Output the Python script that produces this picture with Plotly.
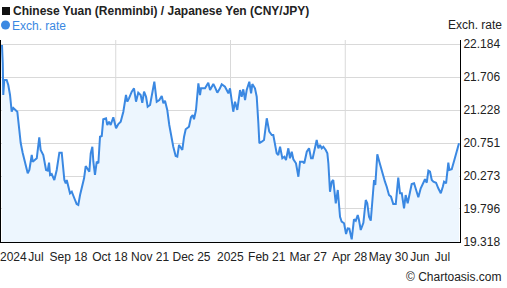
import plotly.graph_objects as go

# Day offsets from the start of the period (mid July 2024) and CNY/JPY rates
days = [0, 0.6, 1.0, 1.8, 3.7, 5.0, 6.4, 7.7, 9.0, 12.2, 13.8, 14.9, 16.5, 18.3, 20.5, 21.8, 23.7, 24.5, 27.7, 29.7,
        30.8, 32.9, 35.1, 36.4, 37.5, 38.3, 39.6, 41.7, 43.6, 45.7, 47.6, 49.7, 50.8, 51.6, 52.8, 54.2, 55.6, 56.8, 58.2, 59.5,
        60.8, 62.2, 63.5, 65.4, 66.7, 68.0, 69.6, 70.7, 72.0, 72.8, 74.1, 75.5, 76.8, 78.1, 79.5, 80.7, 82.9, 83.9, 85.3, 86.6,
        88.7, 90.9, 92.7, 94.6, 96.7, 98.8, 99.9, 101.2, 103.4, 105.2, 106.8, 108.6, 110.5, 111.8, 113.2, 114.8, 116.1, 118.0, 119.8, 121.4,
        123.3, 125.4, 127.3, 128.6, 129.9, 131.7, 133.3, 134.7, 136.5, 138.4, 139.7, 141.1, 142.4, 143.7, 145.1, 146.4, 149.0, 150.6, 152.0, 153.0,
        154.6, 155.7, 156.5, 157.8, 158.6, 161.8, 164.4, 165.8, 168.4, 169.8, 171.6, 173.7, 175.1, 177.7, 180.4, 181.7, 183.1, 184.3, 185.7, 187.5,
        189.7, 191.0, 192.3, 193.7, 195.0, 196.3, 197.1, 198.5, 199.5, 201.6, 203.0, 204.3, 205.1, 207.0, 208.8, 211.0, 213.0, 215.0, 216.2, 218.9,
        220.2, 221.6, 223.4, 225.0, 226.3, 228.2, 229.5, 230.9, 232.2, 234.3, 236.2, 237.5, 239.7, 240.9, 242.9, 244.7, 246.3, 247.6, 249.5, 250.8,
        252.1, 253.4, 254.8, 256.1, 258.0, 259.3, 260.1, 261.4, 262.8, 264.0, 266.0, 267.6, 269.4, 270.7, 272.6, 274.2, 275.5, 276.8, 278.7, 280.5,
        281.9, 283.5, 284.5, 285.9, 288.0, 289.9, 291.1, 292.5, 293.9, 295.4, 296.5, 297.5, 299.1, 300.7, 302.6, 303.9, 305.2, 306.6, 308.4, 310.0,
        311.8, 313.8, 315.0, 315.8, 317.2, 318.6, 320.4, 321.7, 323.3, 325.2, 326.5, 328.4, 330.0, 331.8, 333.7, 335.8, 337.1, 338.5, 339.8, 341.1,
        342.5, 343.8, 345.9, 347.7, 349.7, 351.3, 352.3, 353.9, 355.7, 356.5, 358.4, 360.5, 362.4, 364.2]
rates = [22.170, 21.905, 21.446, 21.663, 21.663, 21.591, 21.446, 21.204, 21.258, 21.204, 20.939, 20.751, 20.606, 20.480, 20.312, 20.360, 20.577, 20.480, 20.530, 20.833,
         20.650, 20.577, 20.360, 20.350, 20.466, 20.288, 20.302, 20.215, 20.360, 20.611, 20.611, 20.215, 20.168, 20.215, 20.118, 20.023, 20.046, 19.974, 19.926, 19.868,
         19.854, 19.998, 20.118, 20.240, 20.418, 20.385, 20.336, 20.602, 20.697, 20.480, 20.288, 20.480, 20.457, 20.842, 20.852, 21.094, 21.108, 21.012, 21.059, 21.012,
         21.123, 20.964, 21.026, 21.059, 21.204, 21.446, 21.349, 21.398, 21.494, 21.543, 21.349, 21.479, 21.446, 21.334, 21.494, 21.421, 21.276, 21.301, 21.494, 21.638,
         21.349, 21.373, 21.431, 21.326, 21.363, 21.229, 21.012, 20.867, 20.697, 20.563, 20.553, 20.722, 20.674, 20.650, 20.842, 20.949, 20.987, 21.123, 21.156, 21.094,
         21.229, 21.543, 21.615, 21.446, 21.543, 21.543, 21.624, 21.518, 21.605, 21.557, 21.479, 21.543, 21.601, 21.566, 21.470, 21.543, 21.349, 21.204, 21.349, 21.229,
         21.518, 21.421, 21.528, 21.373, 21.518, 21.615, 21.638, 21.470, 21.605, 21.543, 21.421, 21.036, 20.747, 20.770, 20.794, 21.109, 20.915, 20.867, 20.867, 20.602,
         20.577, 20.697, 20.530, 20.553, 20.505, 20.674, 20.530, 20.625, 20.515, 20.457, 20.263, 20.480, 20.480, 20.457, 20.625, 20.674, 20.530, 20.530, 20.674, 20.794,
         20.674, 20.722, 20.674, 20.697, 20.650, 20.602, 20.457, 20.046, 20.191, 20.215, 19.878, 20.071, 19.684, 19.612, 19.589, 19.434, 19.516, 19.511, 19.357, 19.647,
         19.626, 19.709, 19.636, 19.492, 19.597, 19.926, 19.878, 19.684, 19.626, 19.974, 20.215, 20.143, 20.587, 20.480, 20.360, 20.240, 20.191, 20.118, 19.998, 19.974,
         19.868, 19.868, 20.095, 20.249, 20.023, 20.023, 19.806, 19.998, 19.878, 20.071, 20.157, 20.168, 20.071, 19.965, 20.095, 20.168, 20.226, 20.176, 20.350, 20.336,
         20.215, 20.191, 20.176, 20.095, 20.023, 20.118, 20.191, 20.168, 20.466, 20.360, 20.370, 20.505, 20.625, 20.747]

tick_days = [9, 27, 53, 86, 118, 151, 182, 211, 244, 277, 308, 333, 351]
tick_labels = ["2024", "Jul", "Sep 18", "Oct 18", "Nov 21", "Dec 25", "2025",
               "Feb 21", "Mar 27", "Apr 28", "May 30", "Jun", "Jul"]
y_ticks = [19.318, 19.796, 20.273, 20.751, 21.228, 21.706, 22.184]

title_text = "<b>Chinese Yuan (Renminbi) / Japanese Yen (CNY/JPY)</b>"
legend_text = "Exch. rate"
axis_title = "Exch. rate"
credit = "© Chartoasis.com"

FONT = "Liberation Sans, Arial, sans-serif"
LINE = "#3a88e2"
FILL = "#edf6fe"
TEXT = "#222222"

fig = go.Figure()
fig.add_trace(go.Scatter(
    x=days, y=rates, mode="lines",
    line=dict(color=LINE, width=2),
    fill="tozeroy", fillcolor=FILL,
    hoverinfo="skip", showlegend=False,
))

for p in (0.25, 0.5, 0.75):
    fig.add_shape(type="line", xref="paper", yref="paper", x0=p, x1=p, y0=0, y1=1,
                  line=dict(color="#d9d9d9", width=1), layer="below")

# title square and legend dot (pixel-sized shapes anchored at the plot's top-left corner)
fig.add_shape(type="rect", xref="paper", yref="paper", xsizemode="pixel", ysizemode="pixel",
              xanchor=0, yanchor=1, x0=1, x1=9, y0=25, y1=33,
              fillcolor="#111111", line=dict(width=0))
fig.add_shape(type="circle", xref="paper", yref="paper", xsizemode="pixel", ysizemode="pixel",
              xanchor=0, yanchor=1, x0=0, x1=9, y0=10.5, y1=19.5,
              fillcolor=LINE, line=dict(width=0))


def note(text, x, y, xa, ya, dx, dy, size, color):
    return dict(text=text, xref="paper", yref="paper", x=x, y=y, xanchor=xa, yanchor=ya,
                xshift=dx, yshift=dy, showarrow=False, font=dict(size=size, color=color))


fig.update_layout(
    width=507, height=288,
    margin=dict(l=1, r=47, t=40, b=46),
    paper_bgcolor="white", plot_bgcolor="white",
    font=dict(family=FONT, size=12, color=TEXT),
    xaxis=dict(range=[-0.8, 365], tickmode="array", tickvals=tick_days, ticktext=tick_labels,
               tickangle=0, ticklabeloverflow="allow", ticklabelstandoff=4,
               showgrid=False, zeroline=False, showline=True, linecolor="black", linewidth=1,
               ticks="", tickfont=dict(size=12, color=TEXT), fixedrange=True),
    yaxis=dict(range=[19.318, 22.242], side="right", tickmode="array", tickvals=y_ticks,
               ticktext=[f"{v:.3f}" for v in y_ticks],
               showgrid=True, gridcolor="#d9d9d9", gridwidth=1, zeroline=False,
               showline=True, linecolor="black", linewidth=1, mirror=True,
               ticks="", tickfont=dict(size=12, color=TEXT), fixedrange=True),
    annotations=[
        note(title_text, 0, 1, "left", "middle", 10, 29.5, 12, TEXT),
        note(legend_text, 0, 1, "left", "middle", 9, 14.5, 12, LINE),
        note(axis_title, 1, 1, "right", "bottom", 44, 6, 12, TEXT),
        note(credit, 1, 0, "right", "top", 44, -26, 12, TEXT),
    ],
)

fig.write_html("out.html")
